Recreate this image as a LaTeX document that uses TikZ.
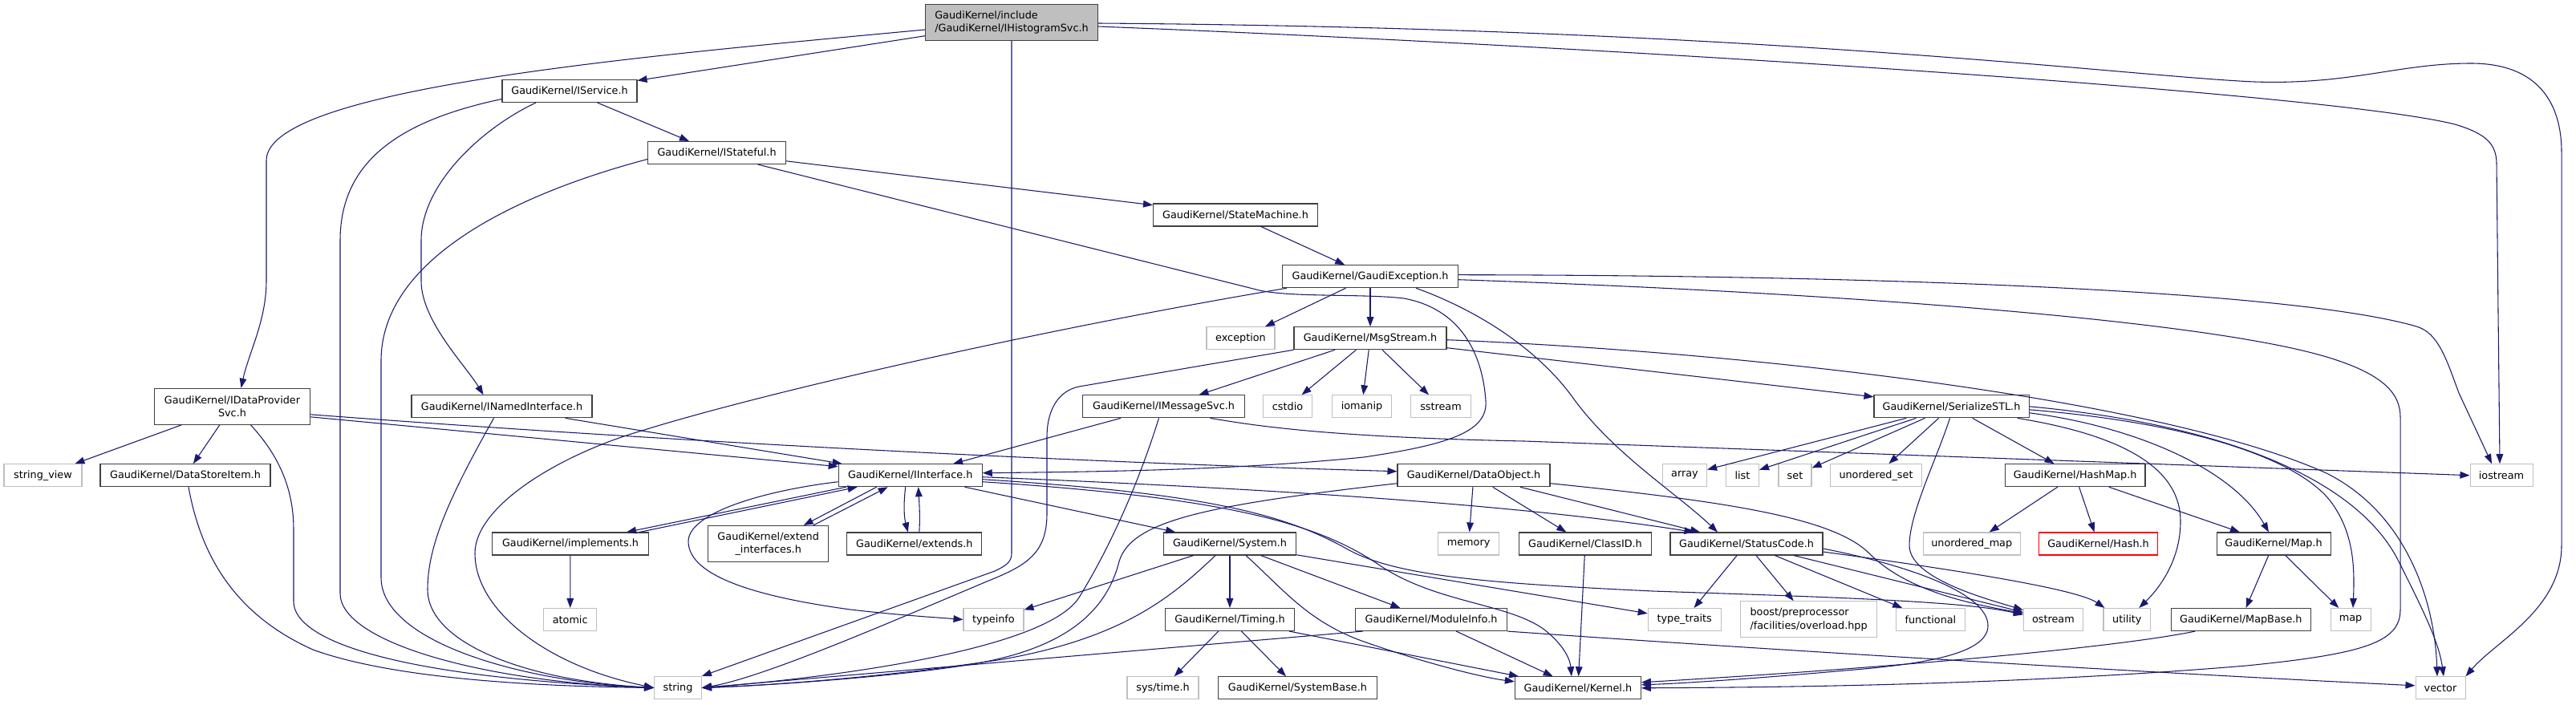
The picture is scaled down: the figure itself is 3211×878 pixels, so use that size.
\documentclass[tikz,border=0pt]{standalone}
\usepackage{fontspec}
\setmainfont{DejaVu Sans}
\usepackage{tikz}
\usetikzlibrary{arrows.meta,calc,positioning}

\definecolor{midnight}{HTML}{191970}
\definecolor{nodeframe}{HTML}{404040}
\definecolor{sysgray}{HTML}{BFBFBF}
\definecolor{topgray}{HTML}{BFBFBF}

\begin{document}
\begin{tikzpicture}[x=0.75pt, y=-0.75pt,
  >={Triangle[length=9pt, width=6.5pt]},
  file/.style={draw=nodeframe, fill=white, line width=0.8pt, inner sep=0pt,
    minimum height=21pt, font=\fontsize{9.6}{12.5}\selectfont},
  sys/.style={file, draw=sysgray},
  tall/.style={minimum height=33.75pt},
  wd/.style={minimum width=#1*0.75pt},
  inc/.style={->, draw=midnight, line width=0.8pt}]
\useasboundingbox (0, 0) rectangle (3211, 878);

\node [file, wd=215, tall, fill=topgray, align=left] (i_hist) at (1261, 28) {GaudiKernel/include\\/GaudiKernel/IHistogramSvc.h};
\node [file, wd=168] (i_service) at (710, 113.5) {GaudiKernel/IService.h};
\node [file, wd=172] (i_stateful) at (893.6, 190.5) {GaudiKernel/IStateful.h};
\node [file, wd=205] (state_machine) at (1540, 268) {GaudiKernel/StateMachine.h};
\node [file, wd=219] (gaudi_exc) at (1708, 344.7) {GaudiKernel/GaudiException.h};
\node [sys, wd=85] (exception) at (1546.5, 421.7) {exception};
\node [file, wd=190] (msg_stream) at (1708, 421.7) {GaudiKernel/MsgStream.h};

\node [file, wd=194, tall, align=center] (i_dps) at (289.5, 506.8) {GaudiKernel/IDataProvider\\Svc.h};
\node [file, wd=225] (i_named) at (625.5, 506.8) {GaudiKernel/INamedInterface.h};
\node [file, wd=202] (i_msg) at (1450.5, 506.8) {GaudiKernel/IMessageSvc.h};
\node [sys, wd=61] (cstdio) at (1605, 506.8) {cstdio};
\node [sys, wd=74.5] (iomanip) at (1697.5, 506.8) {iomanip};
\node [sys, wd=75] (sstream) at (1796, 506.8) {sstream};
\node [file, wd=193] (serialize) at (2432.5, 506.8) {GaudiKernel/SerializeSTL.h};

\node [sys, wd=97] (string_view) at (53.5, 592.7) {string\_view};
\node [file, wd=212] (data_store) at (231, 592.7) {GaudiKernel/DataStoreItem.h};
\node [file, wd=179] (i_interface) at (1134.7, 592.7) {GaudiKernel/IInterface.h};
\node [file, wd=190] (data_object) at (1837, 592.7) {GaudiKernel/DataObject.h};
\node [sys, wd=55] (array) at (2100, 592.7) {array};
\node [sys, wd=41] (list) at (2172, 592.7) {list};
\node [sys, wd=41] (set) at (2237.5, 592.7) {set};
\node [sys, wd=114] (unordered_set) at (2338.5, 592.7) {unordered\_set};
\node [file, wd=174.5] (hash_map) at (2586.7, 592.7) {GaudiKernel/HashMap.h};
\node [sys, wd=78] (iostream) at (3118, 592.7) {iostream};

\node [file, wd=195] (implements) at (711, 678) {GaudiKernel/implements.h};
\node [file, wd=150, tall, align=center] (extend_if) at (957.7, 678) {GaudiKernel/extend\\\_interfaces.h};
\node [file, wd=168] (extends) at (1139.8, 678) {GaudiKernel/extends.h};
\node [file, wd=165] (system) at (1533, 678) {GaudiKernel/System.h};
\node [sys, wd=76.5] (memory) at (1830.6, 678) {memory};
\node [file, wd=165] (class_id) at (1976, 678) {GaudiKernel/ClassID.h};
\node [file, wd=190] (status_code) at (2177, 678) {GaudiKernel/StatusCode.h};
\node [sys, wd=121] (unordered_map) at (2457.7, 678) {unordered\_map};
\node [file, wd=147.5, draw=red] (hash) at (2615.5, 678) {GaudiKernel/Hash.h};
\node [file, wd=142] (map_h) at (2834, 678) {GaudiKernel/Map.h};

\node [sys, wd=66] (atomic) at (710.7, 772.5) {atomic};
\node [sys, wd=75] (typeinfo) at (1238.5, 772.5) {typeinfo};
\node [file, wd=161] (timing) at (1533, 772.5) {GaudiKernel/Timing.h};
\node [file, wd=189] (module_info) at (1784, 772.5) {GaudiKernel/ModuleInfo.h};
\node [sys, wd=91] (type_traits) at (2099.7, 772.5) {type\_traits};
\node [sys, wd=170, tall, align=left] (boost_pp) at (2254.6, 772.2) {boost/preprocessor\\/facilities/overload.hpp};
\node [sys, wd=86] (functional) at (2406.4, 772.5) {functional};
\node [sys, wd=74] (ostream) at (2559.4, 772.5) {ostream};
\node [sys, wd=58.7] (utility) at (2651.3, 772.5) {utility};
\node [file, wd=174.5] (map_base) at (2793.3, 772.5) {GaudiKernel/MapBase.h};
\node [sys, wd=50] (map_std) at (2930, 772.5) {map};

\node [sys, wd=58.7] (string) at (845, 857.5) {string};
\node [sys, wd=89] (sys_time) at (1449.5, 857.8) {sys/time.h};
\node [file, wd=198] (system_base) at (1617.4, 857.8) {GaudiKernel/SystemBase.h};
\node [file, wd=157] (kernel) at (1966.9, 857.8) {GaudiKernel/Kernel.h};
\node [sys, wd=62] (vector) at (3042, 857.8) {vector};

\draw [inc] (i_hist) -- (i_service);
\draw [inc] ($(i_hist.west)+(0,9)$) .. controls (800,70) and (332,110) .. (332,200) -- (332,350) .. controls (332,400) and (310,440) .. ($(i_dps.north)+(11,0)$);
\draw [inc] (i_hist.south) -- (1261,690) .. controls (1261,700) and (1255,705) .. (1240,712) -- (string.north east);
\draw [inc] ($(i_hist.east)+(0,5)$) .. controls (2000,58) and (2900,115) .. (3060,155) .. controls (3100,167) and (3112,180) .. (3112,205) -- ($(iostream.north)+(-2,0)$);
\draw [inc] ($(i_hist.east)+(0,1)$) .. controls (2200,35) and (2650,95) .. (2810,102) .. controls (2930,106) and (2990,79) .. (3080,79) .. controls (3165,79) and (3193,130) .. (3193,190) -- (3193,680) .. controls (3193,760) and (3110,800) .. (vector.north east);

\draw [inc] (i_service) -- (i_stateful);
\draw [inc] ($(i_service.south)+(-42,0)$) .. controls (600,160) and (525,230) .. (525,300) -- (525,350) .. controls (525,400) and (580,455) .. ($(i_named.north)+(-23,0)$);
\draw [inc] ($(i_service.west)+(0,10)$) .. controls (500,150) and (424,200) .. (424,300) -- (424,740) .. controls (424,800) and (600,850) .. (string.west);

\draw [inc] (i_stateful) -- (state_machine);
\draw [inc] ($(i_stateful.south)+(51,0)$) -- (1570,362) .. controls (1610,371) and (1700,366) .. (1750,372) .. controls (1820,385) and (1848,440) .. (1852,500) .. controls (1855,540) and (1800,555) .. (1700,570) .. controls (1550,585) and (1400,588) .. ($(i_interface.east)+(0,-3)$);
\draw [inc] ($(i_stateful.west)+(0,8)$) .. controls (650,240) and (475,320) .. (475,450) -- (475,720) .. controls (475,800) and (650,850) .. (string.west);

\draw [inc] (state_machine) -- (gaudi_exc);
\draw [inc] (gaudi_exc) -- (exception);
\draw [inc] (gaudi_exc) -- (msg_stream);
\draw [inc] ($(gaudi_exc.south west)+(6,0)$) .. controls (1300,410) and (950,490) .. (800,537) .. controls (700,566) and (592,630) .. (592,690) .. controls (592,760) and (680,830) .. (string.west);
\draw [inc] ($(gaudi_exc.south)+(57,0)$) .. controls (1850,390) and (1920,440) .. (1960,495) .. controls (2010,565) and (2090,615) .. ($(status_code.north)+(-36,0)$);
\draw [inc] ($(gaudi_exc.east)+(0,-2)$) .. controls (2300,343) and (2850,360) .. (3012,407) .. controls (3040,415) and (3050,450) .. (3065,490) -- ($(iostream.north)+(-12,0)$);
\draw [inc] ($(gaudi_exc.east)+(0,4)$) .. controls (2300,365) and (2750,400) .. (2900,445) .. controls (2970,466) and (2992,490) .. (2992,520) -- (2992,760) .. controls (2992,800) and (2950,815) .. (2800,830) .. controls (2500,855) and (2200,857) .. (kernel.east);

\draw [inc] (msg_stream) -- (i_msg);
\draw [inc] (msg_stream) -- (cstdio);
\draw [inc] (msg_stream) -- (iomanip);
\draw [inc] (msg_stream) -- (sstream);
\draw [inc] (msg_stream.south west) -- (1345,482) .. controls (1320,487) and (1305,510) .. (1305,545) -- (1305,640) .. controls (1305,690) and (1280,705) .. (1230,725) .. controls (1100,780) and (950,845) .. (string.east);
\draw [inc] ($(msg_stream.east)+(0,12)$) -- ($(serialize.west)+(0,-12)$);
\draw [inc] ($(msg_stream.east)+(0,2)$) .. controls (2200,440) and (2700,500) .. (2900,590) .. controls (3000,640) and (3035,750) .. ($(vector.north)+(-4,0)$);

\draw [inc] (i_msg) -- (i_interface);
\draw [inc] ($(i_msg.south)+(-6,0)$) .. controls (1420,600) and (1385,680) .. (1345,745) .. controls (1300,815) and (1000,848) .. (string.east);
\draw [inc] ($(i_msg.south)+(58,0)$) .. controls (1560,530) and (1650,545) .. (1900,550) -- (iostream.west);

\draw [inc] (i_dps) -- (string_view);
\draw [inc] (i_dps) -- (data_store);
\draw [inc] ($(i_dps.south)+(23,0)$) .. controls (340,560) and (366,600) .. (366,660) -- (366,750) .. controls (366,800) and (500,845) .. (string.west);
\draw [inc] ($(i_dps.east)+(0,13)$) -- ($(i_interface.west)+(0,-11)$);
\draw [inc] ($(i_dps.east)+(0,10)$) .. controls (800,548) and (1300,575) .. ($(data_object.west)+(0,-5)$);
\draw [inc] ($(data_store.south)+(4,0)$) .. controls (250,690) and (290,765) .. (390,810) .. controls (500,850) and (700,856) .. (string.west);

\draw [inc] ($(i_named.south east)+(-34,0)$) -- ($(i_interface.north west)+(5,0)$);
\draw [inc] ($(i_named.south)+(-10,0)$) .. controls (560,620) and (533,680) .. (533,735) .. controls (533,800) and (650,848) .. (string.west);

\draw [inc] ($(i_interface.south west)+(10,0)$) -- ($(implements.north east)+(-28,0)$);
\draw [inc] ($(implements.north east)+(-12,0)$) -- ($(i_interface.south west)+(24,0)$);
\draw [inc] ($(i_interface.south west)+(48,0)$) -- ($(extend_if.north)+(44,0)$);
\draw [inc] ($(extend_if.north)+(56,0)$) -- ($(i_interface.south west)+(62,0)$);
\draw [inc] ($(i_interface.south)+(-6,0)$) .. controls (1126,630) and (1127,645) .. ($(extends.north)+(-8,0)$);
\draw [inc] ($(extends.north)+(6,0)$) .. controls (1147,645) and (1146,630) .. ($(i_interface.south)+(10,0)$);
\draw [inc] (i_interface) -- (system);
\draw [inc] ($(i_interface.west)+(0,8)$) .. controls (950,612) and (858,640) .. (858,675) .. controls (858,720) and (950,745) .. (1060,760) .. controls (1120,767) and (1170,770) .. (typeinfo.west);
\draw [inc] ($(i_interface.east)+(0,2)$) .. controls (1600,610) and (1900,630) .. ($(status_code.north west)+(30,0)$);
\draw [inc] ($(i_interface.east)+(0,5)$) .. controls (1500,615) and (1600,640) .. (1680,685) .. controls (1740,718) and (1850,727) .. (2060,737) .. controls (2300,745) and (2450,750) .. ($(ostream.west)+(0,-6)$);
\draw [inc] ($(i_interface.east)+(0,8)$) .. controls (1520,620) and (1640,650) .. (1720,705) .. controls (1790,752) and (1880,752) .. (1925,785) .. controls (1950,805) and (1957,822) .. ($(kernel.north)+(-8,0)$);

\draw [inc] (implements) -- (atomic);

\draw [inc] (data_object) -- (memory);
\draw [inc] (data_object) -- (class_id);
\draw [inc] (data_object) -- (status_code);
\draw [inc] ($(data_object.west)+(0,10)$) .. controls (1500,630) and (1410,650) .. (1395,700) .. controls (1375,780) and (1300,815) .. (1200,830) .. controls (1100,845) and (950,855) .. (string.east);
\draw [inc] ($(data_object.east)+(0,10)$) .. controls (2150,625) and (2285,645) .. (2330,690) .. controls (2375,735) and (2450,752) .. ($(ostream.west)+(0,-8)$);

\draw [inc] (class_id) -- (kernel);

\draw [inc] (status_code) -- (type_traits);
\draw [inc] (status_code) -- (boost_pp);
\draw [inc] (status_code) -- (functional);
\draw [inc] (status_code) -- (ostream);
\draw [inc] ($(status_code.east)+(0,10)$) .. controls (2450,712) and (2590,735) .. ($(utility.north west)+(2,0)$);
\draw [inc] ($(status_code.east)+(0,6)$) .. controls (2380,705) and (2478,740) .. (2478,780) .. controls (2478,815) and (2400,828) .. (2300,836) .. controls (2200,845) and (2100,852) .. ($(kernel.east)+(0,-4)$);

\draw [inc] (serialize) -- (array);
\draw [inc] (serialize) -- (list);
\draw [inc] (serialize) -- (set);
\draw [inc] (serialize) -- (unordered_set);
\draw [inc] (serialize) -- (hash_map);
\draw [inc] ($(serialize.south)+(-2,0)$) .. controls (2415,570) and (2380,640) .. (2380,680) .. controls (2380,720) and (2470,745) .. ($(ostream.west)+(0,-12)$);
\draw [inc] ($(serialize.south east)+(-15,0)$) .. controls (2660,545) and (2718,590) .. (2718,650) .. controls (2718,700) and (2690,735) .. ($(utility.north)+(15,0)$);
\draw [inc] ($(serialize.east)+(0,8)$) .. controls (2650,530) and (2780,580) .. ($(map_h.north)+(-6,0)$);
\draw [inc] ($(serialize.east)+(0,4)$) .. controls (2760,530) and (2870,580) .. (2905,625) .. controls (2935,665) and (2935,710) .. ($(map_std.north)+(3,0)$);
\draw [inc] (serialize.east) .. controls (2780,530) and (2940,600) .. (2990,700) .. controls (3020,760) and (3040,800) .. ($(vector.north)+(4,0)$);

\draw [inc] (hash_map) -- (unordered_map);
\draw [inc] (hash_map) -- (hash);
\draw [inc] (hash_map) -- (map_h);
\draw [inc] (map_h) -- (map_base);
\draw [inc] (map_h) -- (map_std);
\draw [inc] ($(map_base.south)+(-57,0)$) .. controls (2650,805) and (2400,830) .. ($(kernel.east)+(0,-7)$);

\draw [inc] (system) -- (typeinfo);
\draw [inc] (system) -- (timing);
\draw [inc] (system) -- (module_info);
\draw [inc] (system) -- (type_traits);
\draw [inc] ($(system.south)+(-18,0)$) .. controls (1460,745) and (1400,795) .. (1250,822) .. controls (1100,845) and (950,855) .. (string.east);
\draw [inc] ($(system.south)+(20,0)$) .. controls (1600,735) and (1630,775) .. (1700,800) .. controls (1780,828) and (1850,845) .. ($(kernel.west)+(0,-8)$);

\draw [inc] (timing) -- (sys_time);
\draw [inc] (timing) -- (system_base);
\draw [inc] (timing) -- (kernel);

\draw [inc] ($(module_info.south west)+(10,0)$) -- (string.east);
\draw [inc] (module_info) -- (kernel);
\draw [inc] (module_info.south east) .. controls (2200,810) and (2700,840) .. ($(vector.west)+(0,-3)$);
\end{tikzpicture}
\end{document}
